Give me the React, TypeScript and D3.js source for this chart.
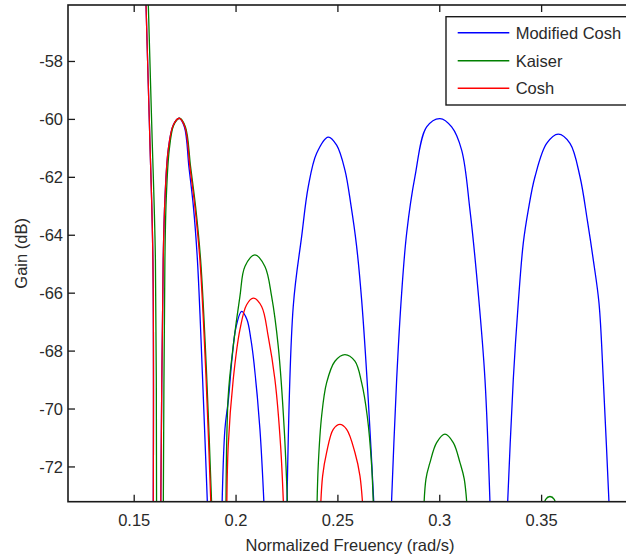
import React, { useEffect, useRef } from "react";
import * as d3 from "d3";

type Pt = [number, number];

// tick values
const xTicks = [0.15, 0.2, 0.25, 0.3, 0.35];
const xTickLabels = ["0.15", "0.2", "0.25", "0.3", "0.35"];
const yTicks = [-58, -60, -62, -64, -66, -68, -70, -72];
const yTickLabels = ["-58", "-60", "-62", "-64", "-66", "-68", "-70", "-72"];

const seriesNames = ["Modified Cosh", "Kaiser", "Cosh"];
const seriesColors = ["#0000ff", "#008000", "#ff0000"];

// each series is a list of lobes: [normalized freq, gain dB]
const modifiedCosh: Pt[][] = [
  [[0.1555, -54.87], [0.15574, -55.9], [0.15756, -60.38], [0.15918, -64.85], [0.15933, -74]],
  [[0.16296, -74], [0.16424, -64.85], [0.16507, -62.78], [0.16669, -61.06], [0.16915, -60.2], [0.1721, -59.96],
   [0.17465, -60.26], [0.17686, -61.64], [0.17907, -63.02], [0.18103, -64.85], [0.18349, -68.81], [0.18633, -74]],
  [[0.19291, -74], [0.19453, -70.7], [0.19625, -69.67], [0.19797, -68.29], [0.19993, -67.19], [0.20273, -66.63],
   [0.20534, -66.91], [0.2073, -67.6], [0.20877, -68.39], [0.21172, -70.7], [0.21417, -74]],
  [[0.22483, -74], [0.22807, -66.46], [0.23219, -64.05], [0.23543, -62.33], [0.23956, -61.17], [0.24525, -60.61],
   [0.24938, -60.89], [0.25345, -61.75], [0.2564, -62.96], [0.2591, -64.33], [0.26165, -66.23], [0.2649, -69.67], [0.26818, -74]],
  [[0.27589, -74], [0.27884, -68.98], [0.28129, -66.0], [0.28375, -63.93], [0.28782, -61.98], [0.29357, -60.26],
   [0.3001, -59.97], [0.30584, -60.26], [0.31075, -61.06], [0.31483, -63.13], [0.3189, -66.0], [0.3222, -68.98], [0.325, -74]],
  [[0.33285, -74], [0.33609, -68.98], [0.33854, -66.34], [0.341, -64.27], [0.34345, -63.13], [0.34674, -61.98],
   [0.35249, -60.83], [0.35818, -60.51], [0.36393, -60.83], [0.36884, -61.98], [0.37242, -63.47], [0.37537, -64.85],
   [0.37817, -66.34], [0.38028, -68.98], [0.38357, -74]],
];

const kaiser: Pt[][] = [
  [[0.1566, -54.87], [0.15687, -55.9], [0.15869, -60.38], [0.16041, -64.85], [0.161, -74]],
  [[0.16424, -74], [0.16507, -64.85], [0.16571, -62.78], [0.16719, -61.06], [0.1694, -60.2], [0.17219, -59.96],
   [0.17514, -60.26], [0.17769, -61.64], [0.18015, -63.02], [0.1826, -64.85], [0.18555, -68.81], [0.1884, -74]],
  [[0.195, -74], [0.19615, -69.56], [0.19861, -67.83], [0.2019, -66.11], [0.20435, -65.08], [0.20926, -64.68],
   [0.21417, -65.08], [0.21746, -66.11], [0.2207, -67.83], [0.22365, -70.7], [0.22561, -74]],
  [[0.23956, -74], [0.24034, -71.96], [0.24201, -70.24], [0.24447, -69.09], [0.24854, -68.35], [0.25345, -68.12],
   [0.25836, -68.35], [0.26165, -69.09], [0.2644, -70.24], [0.26656, -71.96], [0.26769, -74]],
  [[0.2919, -74], [0.29322, -72.42], [0.29519, -71.85], [0.29848, -71.16], [0.30255, -70.87], [0.30663, -71.16],
   [0.30992, -71.85], [0.31203, -72.42], [0.31399, -74]],
  [[0.35, -74], [0.352, -73.12], [0.3541, -73.02], [0.3562, -73.12], [0.358, -74]],
];

const cosh: Pt[][] = [
  [[0.1555, -54.87], [0.15574, -55.9], [0.15756, -60.38], [0.15918, -64.85], [0.15933, -74]],
  [[0.16296, -74], [0.16424, -64.85], [0.16507, -62.78], [0.16669, -61.06], [0.16915, -60.2], [0.1721, -59.96],
   [0.17489, -60.26], [0.17735, -61.64], [0.1798, -63.02], [0.18226, -64.85], [0.1852, -68.81], [0.188, -74]],
  [[0.19537, -74], [0.19615, -71.28], [0.19861, -68.98], [0.2019, -67.26], [0.20519, -66.4], [0.20843, -66.17],
   [0.21255, -66.46], [0.21579, -67.49], [0.21908, -68.98], [0.22188, -71.28], [0.22365, -74]],
  [[0.24118, -74], [0.2425, -72.31], [0.24447, -71.5], [0.24771, -70.7], [0.251, -70.53], [0.25429, -70.7],
   [0.25836, -71.5], [0.26082, -72.31], [0.26278, -74]],
];

const allSeries = [modifiedCosh, kaiser, cosh];

const App = () => {
  const chartRef = useRef<HTMLDivElement>(null);

  useEffect(() => {
    d3.select(chartRef.current).select("svg").remove();

    const width = 626;
    const height = 558;
    const left = 68;
    const right = 640; // axes runs past the crop
    const top = 5;
    const bottom = 501.7;
    const font = "'Liberation Sans', Arial, sans-serif";
    const fontSize = "16.5px";
    const textColor = "#2a2a2a";

    const x = d3.scaleLinear().domain([0.1175, 0.3983]).range([left, right]);
    const y = d3.scaleLinear().domain([-73.2, -56.05]).range([bottom, top]);

    const svg = d3
      .select(chartRef.current)
      .append("svg")
      .attr("width", width)
      .attr("height", height)
      .style("display", "block")
      .style("background", "#fff");

    svg
      .append("defs")
      .append("clipPath")
      .attr("id", "plot-clip")
      .append("rect")
      .attr("x", left)
      .attr("y", top)
      .attr("width", right - left)
      .attr("height", bottom - top);

    // curves
    const line = d3
      .line<Pt>()
      .x((d) => x(d[0]))
      .y((d) => y(d[1]))
      .curve(d3.curveCatmullRom.alpha(0.5));

    const plot = svg.append("g").attr("clip-path", "url(#plot-clip)");
    allSeries.forEach((lobes, i) => {
      plot
        .append("g")
        .selectAll("path")
        .data(lobes)
        .join("path")
        .attr("d", (d) => line(d))
        .attr("fill", "none")
        .attr("stroke", seriesColors[i])
        .attr("stroke-width", 1.3);
    });

    // axes box
    const axisColor = "#1a1a1a";
    svg
      .append("rect")
      .attr("x", left)
      .attr("y", top)
      .attr("width", right - left)
      .attr("height", bottom - top)
      .attr("fill", "none")
      .attr("stroke", axisColor)
      .attr("stroke-width", 1.6);

    const tickLen = 7;
    const ticks = svg.append("g").attr("stroke", axisColor).attr("stroke-width", 1.3);
    xTicks.forEach((t) => {
      ticks.append("line").attr("x1", x(t)).attr("x2", x(t)).attr("y1", bottom).attr("y2", bottom - tickLen);
      ticks.append("line").attr("x1", x(t)).attr("x2", x(t)).attr("y1", top).attr("y2", top + tickLen);
    });
    yTicks.forEach((t) => {
      ticks.append("line").attr("x1", left).attr("x2", left + tickLen).attr("y1", y(t)).attr("y2", y(t));
    });

    svg
      .append("g")
      .selectAll("text")
      .data(xTicks)
      .join("text")
      .attr("x", (d) => x(d))
      .attr("y", 526)
      .attr("text-anchor", "middle")
      .style("font-family", font)
      .style("font-size", fontSize)
      .style("fill", textColor)
      .text((d, i) => xTickLabels[i]);

    svg
      .append("g")
      .selectAll("text")
      .data(yTicks)
      .join("text")
      .attr("x", left - 5)
      .attr("y", (d) => y(d))
      .attr("dy", "0.36em")
      .attr("text-anchor", "end")
      .style("font-family", font)
      .style("font-size", fontSize)
      .style("fill", textColor)
      .text((d, i) => yTickLabels[i]);

    svg
      .append("text")
      .attr("x", 350)
      .attr("y", 551)
      .attr("text-anchor", "middle")
      .style("font-family", font)
      .style("font-size", fontSize)
      .style("fill", textColor)
      .text("Normalized Freuency (rad/s)");

    svg
      .append("text")
      .attr("transform", `translate(27, ${(top + bottom) / 2}) rotate(-90)`)
      .attr("text-anchor", "middle")
      .style("font-family", font)
      .style("font-size", fontSize)
      .style("fill", textColor)
      .text("Gain (dB)");

    // legend
    const legend = svg.append("g");
    legend
      .append("rect")
      .attr("x", 446)
      .attr("y", 16.7)
      .attr("width", 190)
      .attr("height", 88.3)
      .attr("fill", "#fff")
      .attr("stroke", axisColor)
      .attr("stroke-width", 1.4);
    const rows = [32.7, 60.7, 88.3];
    seriesNames.forEach((name, i) => {
      legend
        .append("line")
        .attr("x1", 457.7)
        .attr("x2", 509.3)
        .attr("y1", rows[i])
        .attr("y2", rows[i])
        .attr("stroke", seriesColors[i])
        .attr("stroke-width", 1.4);
      legend
        .append("text")
        .attr("x", 515.7)
        .attr("y", rows[i])
        .attr("dy", "0.36em")
        .style("font-family", font)
        .style("font-size", fontSize)
        .style("fill", textColor)
        .text(name);
    });
  }, []);

  return <div ref={chartRef} style={{ position: "absolute", left: 0, top: 0 }}></div>;
};

export default App;
